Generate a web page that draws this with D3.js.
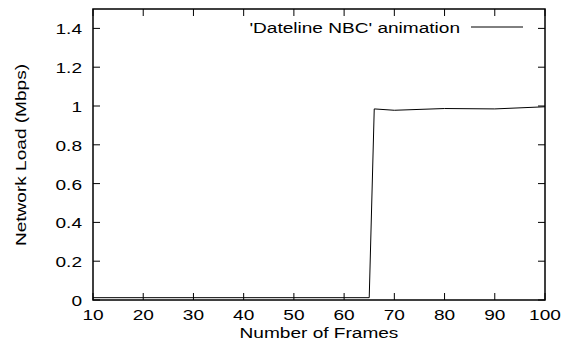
<!DOCTYPE html>
<html>
<head>
<meta charset="utf-8">
<script src="https://cdn.jsdelivr.net/npm/d3@7"></script>
<style>
  body { margin: 0; background: #fff; }
  text { font-family: "Liberation Sans", Arial, sans-serif; fill: #000; }
</style>
</head>
<body>
<script>
const frames = [10, 20, 30, 40, 50, 60, 65, 66, 70, 80, 90, 100];
const load = [0.012, 0.012, 0.012, 0.012, 0.012, 0.012, 0.012, 0.985, 0.978, 0.987, 0.985, 0.996];
const xTicks = [10, 20, 30, 40, 50, 60, 70, 80, 90, 100];
const yTicks = [0, 0.2, 0.4, 0.6, 0.8, 1, 1.2, 1.4];
const seriesName = "'Dateline NBC' animation";

const W = 563, H = 345;
const plotL = 93, plotR = 545, plotT = 9, plotB = 300;
const fs = 15.5, sx = 1.23; // glyphs look horizontally stretched

const x = d3.scaleLinear().domain([10, 100]).range([plotL, plotR]);
const y = d3.scaleLinear().domain([0, 1.5]).range([plotB, plotT]);

const svg = d3.select("body").append("svg")
  .attr("width", W).attr("height", H);

// text helper: stretched horizontally around its anchor point
function label(px, py, str, anchor, rot) {
  return svg.append("text")
    .attr("transform", `translate(${px},${py})` + (rot ? ` rotate(${rot})` : "") + ` scale(${sx},1)`)
    .attr("text-anchor", anchor)
    .style("font-size", fs + "px")
    .text(str);
}

// ticks, inward on all four sides
const tl = 7;
const g = svg.append("g").attr("stroke", "#000").attr("stroke-width", 1);
xTicks.forEach(v => {
  g.append("line").attr("x1", x(v)).attr("x2", x(v)).attr("y1", plotB).attr("y2", plotB - tl);
  g.append("line").attr("x1", x(v)).attr("x2", x(v)).attr("y1", plotT).attr("y2", plotT + tl);
  label(x(v), 320, String(v), "middle");
});
yTicks.forEach(v => {
  g.append("line").attr("x1", plotL).attr("x2", plotL + tl).attr("y1", y(v)).attr("y2", y(v));
  g.append("line").attr("x1", plotR).attr("x2", plotR - tl).attr("y1", y(v)).attr("y2", y(v));
  label(82, y(v) + 6, String(v), "end");
});

// data line
svg.append("path")
  .datum(frames.map((f, i) => [f, load[i]]))
  .attr("fill", "none")
  .attr("stroke", "#000")
  .attr("stroke-width", 1)
  .attr("d", d3.line().x(d => x(d[0])).y(d => y(d[1])));

// frame
svg.append("rect")
  .attr("x", plotL).attr("y", plotT)
  .attr("width", plotR - plotL).attr("height", plotB - plotT)
  .attr("fill", "none").attr("stroke", "#000").attr("stroke-width", 1.5);

// legend
label(460, 33, seriesName, "end");
svg.append("line")
  .attr("x1", 471).attr("x2", 523).attr("y1", 27).attr("y2", 27)
  .attr("stroke", "#000").attr("stroke-width", 1);

// axis titles
label((plotL + plotR) / 2, 338, "Number of Frames", "middle");
label(26, 155, "Network Load (Mbps)", "middle", -90);
</script>
</body>
</html>
